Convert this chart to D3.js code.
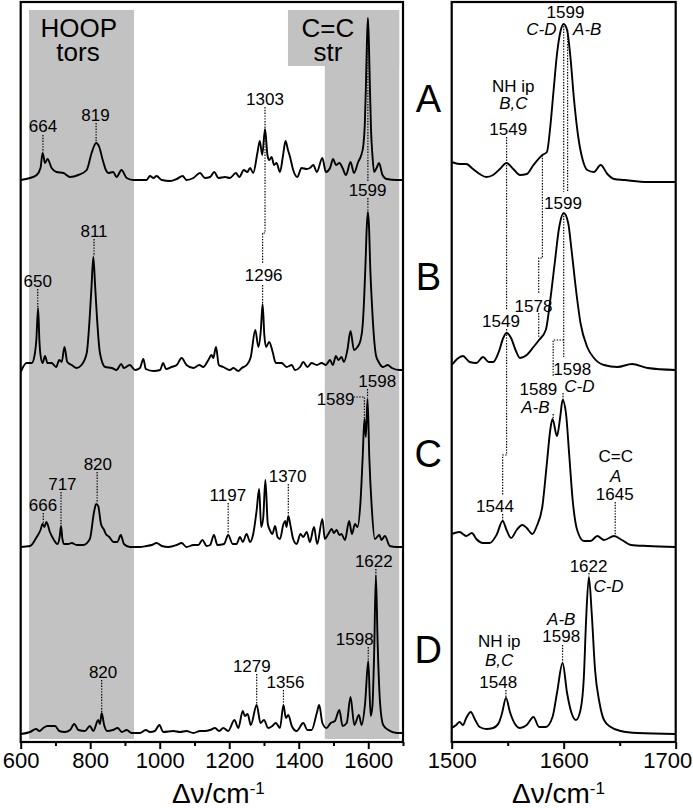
<!DOCTYPE html>
<html><head><meta charset="utf-8">
<script src="https://cdn.jsdelivr.net/npm/d3@7/dist/d3.min.js"></script>
<style>
body{margin:0;background:#fff}
svg{display:block}
text{font-family:"Liberation Sans",Arial,Helvetica,sans-serif;fill:#000}
</style>
</head><body>
<svg id="c" width="693" height="808"></svg>
<script>
// ---------------- DATA (wavenumber cm-1, intensity a.u. above trace baseline) ----------------
const traceNames = ['A','B','C','D'];

const leftA = [[600,0],[627,2],[646,5],[657,12],[663,27],[670,17],[677,21],[689,12],[703,8],[723,7],[742,3],[766,5],[790,10],[804,27],[817,37],[826,33],[836,20],[845,10],[852,7],[866,8],[876,3],[890,10],[905,2],[924,0],[962,0],[972,4],[982,2],[991,4],[1006,0],[1030,-1],[1049,1],[1066,4],[1077,0],[1097,2],[1116,7],[1130,2],[1145,3],[1157,8],[1169,2],[1188,3],[1202,2],[1219,7],[1229,3],[1242,10],[1252,8],[1260,12],[1269,7],[1281,27],[1288,39],[1295,25],[1303,51],[1310,25],[1315,20],[1322,23],[1329,15],[1336,17],[1346,8],[1355,25],[1362,39],[1369,30],[1375,23],[1384,10],[1396,3],[1408,12],[1423,11],[1432,12],[1442,15],[1452,8],[1468,22],[1478,8],[1490,12],[1499,21],[1507,15],[1517,17],[1526,12],[1536,5],[1549,18],[1559,7],[1571,18],[1580,25],[1586,35],[1590,55],[1593,90],[1596,135],[1599,162],[1602,135],[1605,90],[1608,50],[1612,25],[1617,8],[1624,12],[1631,17],[1641,5],[1653,1],[1682,0],[1700,0]];

const leftB = [[600,-2],[617,7],[632,7],[641,17],[645,30],[650,62],[654,28],[657,15],[663,7],[670,14],[677,7],[689,7],[702,3],[711,10],[718,8],[726,23],[734,8],[747,5],[761,2],[775,5],[790,17],[799,55],[804,85],[809,113],[814,85],[819,55],[828,17],[843,3],[862,2],[876,0],[889,6],[897,2],[914,5],[929,0],[943,2],[953,11],[960,1],[982,-1],[1001,0],[1010,7],[1018,1],[1034,3],[1049,5],[1063,12],[1077,5],[1097,2],[1114,5],[1125,3],[1140,10],[1149,15],[1154,12],[1162,23],[1170,5],[1183,3],[1202,0],[1212,2],[1226,-1],[1236,2],[1250,5],[1262,13],[1275,40],[1284,23],[1291,40],[1296,66],[1301,35],[1306,23],[1315,28],[1325,18],[1334,7],[1351,7],[1365,3],[1380,5],[1389,0],[1404,3],[1413,8],[1425,3],[1437,7],[1452,5],[1466,7],[1478,5],[1490,10],[1498,5],[1507,14],[1514,10],[1523,13],[1530,8],[1540,20],[1549,39],[1559,20],[1569,23],[1578,30],[1584,45],[1588,70],[1592,105],[1596,145],[1599,158],[1602,145],[1606,100],[1610,70],[1616,35],[1622,15],[1630,8],[1643,3],[1656,5],[1668,2],[1690,0],[1700,0]];

const leftC = [[600,0],[627,1],[646,10],[657,17],[663,23],[668,20],[674,25],[684,15],[694,8],[706,3],[712,10],[716,21],[720,8],[725,3],[737,3],[747,4],[761,2],[780,2],[799,8],[811,35],[817,43],[823,41],[831,23],[840,17],[845,13],[855,10],[867,5],[878,5],[888,12],[897,3],[914,0],[943,0],[962,1],[977,2],[991,4],[1006,1],[1025,0],[1049,2],[1063,4],[1077,0],[1097,2],[1111,2],[1123,7],[1135,1],[1145,2],[1156,12],[1166,2],[1185,3],[1197,12],[1210,3],[1221,3],[1231,10],[1239,5],[1250,13],[1260,5],[1269,13],[1279,37],[1286,58],[1292,20],[1298,30],[1304,67],[1311,23],[1317,17],[1324,13],[1332,21],[1339,10],[1346,8],[1356,23],[1361,26],[1365,20],[1370,31],[1377,20],[1384,8],[1394,3],[1405,13],[1413,10],[1423,15],[1432,5],[1444,20],[1453,3],[1468,28],[1475,8],[1485,13],[1495,18],[1501,14],[1509,17],[1517,12],[1523,13],[1533,7],[1545,26],[1553,13],[1562,23],[1569,20],[1578,47],[1584,90],[1589,128],[1593,110],[1598,148],[1603,90],[1610,40],[1619,8],[1632,12],[1638,7],[1648,11],[1662,1],[1682,0],[1700,0]];

const leftD = [[600,-1],[627,1],[644,4],[654,2],[665,5],[677,7],[689,7],[699,7],[711,2],[727,1],[742,3],[754,9],[766,3],[785,2],[799,7],[809,2],[823,13],[828,9],[833,20],[840,8],[849,2],[865,3],[879,5],[891,1],[905,3],[919,0],[943,0],[960,3],[972,1],[986,2],[999,8],[1010,1],[1039,2],[1058,1],[1077,2],[1097,0],[1116,2],[1130,2],[1145,3],[1159,5],[1171,2],[1183,5],[1197,2],[1215,13],[1226,5],[1239,22],[1245,17],[1253,19],[1262,8],[1279,28],[1290,10],[1300,13],[1312,5],[1324,7],[1334,10],[1346,5],[1356,28],[1363,15],[1370,18],[1380,7],[1394,2],[1413,10],[1425,3],[1437,3],[1452,20],[1459,28],[1468,10],[1480,5],[1492,10],[1504,12],[1517,23],[1526,7],[1538,10],[1549,36],[1560,8],[1573,18],[1581,8],[1591,30],[1600,72],[1607,17],[1612,27],[1617,80],[1622,158],[1627,90],[1634,30],[1643,8],[1658,3],[1682,0],[1700,0]];

const rightA = [[1500,20],[1507,18],[1513,18],[1519,13],[1525,8],[1531,5],[1537,7],[1543,13],[1549,19],[1555,13],[1561,7],[1567,8],[1573,17],[1581,27],[1585,30],[1588,55],[1591,92],[1594,128],[1597,150],[1600,158],[1603,152],[1606,125],[1609,85],[1613,45],[1617,22],[1621,12],[1627,10],[1633,17],[1639,8],[1645,3],[1654,2],[1675,0],[1700,0]];

const rightB = [[1500,5],[1506,12],[1510,14],[1516,8],[1522,7],[1528,13],[1533,8],[1537,8],[1542,18],[1546,32],[1549,37],[1553,32],[1557,20],[1561,12],[1567,15],[1573,23],[1578,30],[1584,40],[1588,70],[1592,107],[1596,143],[1600,157],[1604,147],[1607,120],[1611,80],[1615,47],[1621,23],[1627,12],[1636,5],[1648,3],[1661,6],[1675,2],[1700,0]];

const rightC = [[1500,13],[1507,15],[1513,11],[1518,14],[1522,8],[1528,4],[1534,4],[1540,12],[1545.5,26],[1549,17],[1553,9],[1558,17],[1563,22],[1567,19],[1572,13],[1576,21],[1581,41],[1585,84],[1588,117],[1590,128],[1594,111],[1597,131],[1599,147],[1602,134],[1605,91],[1608,47],[1612,17],[1618,6],[1624,6],[1630,11],[1636,7],[1645,11],[1652,7],[1660,2],[1675,1],[1700,0]];

const rightD = [[1500,6],[1504,9],[1507,12],[1510,9],[1513,16],[1517,22],[1521,14],[1525,7],[1531,5],[1537,6],[1542,11],[1545,21],[1548.5,36],[1552,22],[1556,11],[1561,6],[1567,9],[1573,17],[1578,7],[1584,7],[1590,17],[1594,41],[1599,71],[1603,41],[1607,21],[1611,14],[1615,24],[1618,57],[1620,114],[1622.5,157],[1625,121],[1628,64],[1632,31],[1636,14],[1642,7],[1651,3],[1666,1],[1700,0]];

const leftTicksMajor = [600,800,1000,1200,1400,1600];
const leftTicksMinor = [700,900,1100,1300,1500,1700];
const rightTicksMajor = [1500,1600,1700];
const rightTicksMinor = [1550,1650];

const hoopBand = [624, 926];      // cm-1
const ccBand = [1475, 1689];
const ccBox = [1369, 1689];
const bandTexts = [['HOOP','tors'],['C=C','str']];
const axisTitle = 'Δν/cm';
const axisTitleSup = '-1';

// ---------------- LAYOUT ----------------
const offL = [562,372,195,9];
const offR = [560,372,195,8];

const notesL = [
 {t:'664',v:664,I:610},{t:'819',v:815,I:621},{t:'1303',v:1303,I:637},{t:'1599',v:1598,I:546},
 {t:'650',v:649,I:455},{t:'811',v:811,I:505},{t:'1296',v:1299,I:461},
 {t:'666',v:664,I:231},{t:'717',v:720,I:252},{t:'820',v:822,I:272},{t:'1197',v:1196,I:241},
 {t:'1370',v:1368,I:260},{t:'1589',v:1506,I:337},{t:'1598',v:1626,I:355},
 {t:'820',v:837,I:64},{t:'1279',v:1265,I:70},{t:'1356',v:1362,I:54},{t:'1598',v:1561,I:97},{t:'1622',v:1616,I:175}
];
const leadersL = [
 [[664,607],[664,590]],[[817,619],[817,600]],
 [[1303,635],[1303,509],[1296,509],[1296,479]],[[1296,457],[1296,439]],
 [[1599,722],[1599,561]],[[1599,544],[1599,531]],
 [[649,453],[649,435]],[[811,503],[811,486]],
 [[665,229],[665,219]],[[716,250],[716,217]],[[820,270],[820,239]],[[1197,239],[1197,208]],
 [[1370,258],[1370,227]],[[1558,345],[1589,345],[1589,324]],[[1598,353],[1598,344]],
 [[833,62],[833,30]],[[1279,68],[1279,38]],[[1356,52],[1356,38]],[[1600,95],[1600,82]],[[1622,173],[1622,168]]
];
const notesR = [
 {t:'1599',v:1601.6,I:724},{t:'C-D',v:1580,I:707,it:1},{t:'A-B',v:1621,I:707,it:1},
 {t:'NH ip',v:1555,I:650},{t:'B,C',v:1555,I:633,it:1},{t:'1549',v:1550.5,I:607},
 {t:'1599',v:1599.4,I:533},{t:'1549',v:1544,I:415},{t:'1578',v:1573,I:430},
 {t:'1598',v:1607.6,I:367},{t:'C-D',v:1614,I:350,it:1},{t:'1589',v:1577.4,I:347},{t:'A-B',v:1574.7,I:329,it:1},
 {t:'1544',v:1538.6,I:230},{t:'C=C',v:1646.5,I:280},{t:'A',v:1646.5,I:260,it:1},{t:'1645',v:1645.6,I:242},
 {t:'1622',v:1622.2,I:170},{t:'C-D',v:1640,I:150,it:1},{t:'A-B',v:1597.8,I:117,it:1},{t:'1598',v:1597.8,I:100},
 {t:'NH ip',v:1542.4,I:95},{t:'B,C',v:1542.4,I:76,it:1},{t:'1548',v:1541.5,I:54}
];
const leadersR = [
 [[1549,605],[1549,432]],[[1549,413],[1549,287],[1545.5,287],[1545.5,247]],[[1545.5,228],[1545.5,221]],
 [[1581,587],[1581,484],[1577.7,484],[1577.7,449]],[[1577.7,429],[1577.7,405]],
 [[1600,716],[1600,550]],[[1603.5,712],[1603.5,550]],
 [[1600,529],[1600,385]],[[1600,402],[1590.6,402],[1590.6,365]],[[1590.6,328],[1590.6,324]],
 [[1599.4,349],[1599.4,342]],[[1646,240],[1646,207]],[[1622.6,169],[1622.6,166]],
 [[1599,97],[1599,80]],[[1548.4,52],[1548.4,45]]
];

// ---------------- DRAW ----------------
const svg = d3.select('#c');
const xL = d3.scaleLinear().domain([600,1700]).range([20.7,403]);
const xR = d3.scaleLinear().domain([1500,1700]).range([451.7,675.7]);
const y = d3.scaleLinear().domain([0,740]).range([742,2]);
const gray = '#c2c2c2';

// bands
svg.append('rect').attr('x',xL(hoopBand[0])).attr('width',xL(hoopBand[1])-xL(hoopBand[0]))
  .attr('y',y(732)).attr('height',y(3)-y(732)).attr('fill',gray);
svg.append('rect').attr('x',xL(ccBand[0])).attr('width',xL(ccBand[1])-xL(ccBand[0]))
  .attr('y',y(732)).attr('height',y(3)-y(732)).attr('fill',gray);
svg.append('rect').attr('x',xL(ccBox[0])).attr('width',xL(ccBox[1])-xL(ccBox[0]))
  .attr('y',y(732)).attr('height',y(676)-y(732)).attr('fill',gray);

// band texts
const bt = svg.append('g').attr('font-size',26).attr('text-anchor','middle');
bt.append('text').attr('x',xL(767)).attr('y',y(705)).text(bandTexts[0][0]);
bt.append('text').attr('x',xL(765)).attr('y',y(681)).text(bandTexts[0][1]);
bt.append('text').attr('x',xL(1484)).attr('y',y(705)).text(bandTexts[1][0]);
bt.append('text').attr('x',xL(1484)).attr('y',y(681)).text(bandTexts[1][1]);

const dotted = (g, x, list) => {
  const ln = d3.line().x(d=>x(d[0])).y(d=>y(d[1]));
  g.selectAll(null).data(list).join('path').attr('d',ln).attr('fill','none')
   .attr('stroke','#000').attr('stroke-width',1.2).attr('stroke-dasharray','1.4,1.4');
};
dotted(svg.append('g'), xL, leadersL);
dotted(svg.append('g'), xR, leadersR);

const drawTraces = (x, sets, offs) => {
  sets.forEach((s,i)=>{
    const ln = d3.line().x(d=>x(d[0])).y(d=>y(d[1]+offs[i])).curve(d3.curveMonotoneX);
    svg.append('path').datum(s).attr('d',ln).attr('fill','none').attr('stroke','#000')
      .attr('stroke-width',1.9).attr('stroke-linejoin','round');
  });
};
drawTraces(xL,[leftA,leftB,leftC,leftD],offL);
drawTraces(xR,[rightA,rightB,rightC,rightD],offR);

const notes = (x, list) => {
  svg.append('g').attr('font-size',17).attr('text-anchor','middle')
    .selectAll(null).data(list).join('text')
    .attr('x',d=>x(d.v)).attr('y',d=>y(d.I))
    .attr('font-style',d=>d.it?'italic':'normal').text(d=>d.t);
};
notes(xL, notesL);
notes(xR, notesR);

// frames
[[xL,600,1700],[xR,1500,1700]].forEach(([x,a,b])=>{
  svg.append('rect').attr('x',x(a)).attr('y',y(740)).attr('width',x(b)-x(a)).attr('height',y(0)-y(740))
    .attr('fill','none').attr('stroke','#000').attr('stroke-width',2.2);
});

// axes
const axis = (x, major, minor) => {
  const g1 = svg.append('g').attr('transform',`translate(0,${y(0)})`)
    .call(d3.axisBottom(x).tickValues(major).tickSize(7).tickSizeOuter(0).tickPadding(3).tickFormat(d3.format('d')));
  g1.select('.domain').remove();
  g1.selectAll('line').attr('stroke-width',2);
  g1.selectAll('text').attr('font-size',22).attr('font-family','"Liberation Sans",Arial,sans-serif').attr('fill','#000');
  const g2 = svg.append('g').attr('transform',`translate(0,${y(0)})`)
    .call(d3.axisBottom(x).tickValues(minor).tickSize(4).tickSizeOuter(0).tickFormat(''));
  g2.select('.domain').remove();
  g2.selectAll('line').attr('stroke-width',2);
  return g1;
};
axis(xL, leftTicksMajor, leftTicksMinor);
const gR = axis(xR, rightTicksMajor, rightTicksMinor);
// keep the last right-hand tick label inside the page
gR.selectAll('.tick').filter(d=>d===1700).select('text').attr('text-anchor','end').attr('x',16);

// axis titles
[[xL,1035],[xR,1553.8]].forEach(([x,v])=>{
  const t = svg.append('text').attr('x',x(v)).attr('y',803).attr('font-size',28).text(axisTitle);
  t.append('tspan').attr('font-size',17).attr('dy',-9).text(axisTitleSup);
});

// panel letters
const lx = (xL.range()[1]+xR.range()[0])/2 + 1;
svg.append('g').attr('font-size',38).attr('text-anchor','middle')
  .selectAll(null).data(traceNames).join('text')
  .attr('x',lx).attr('y',(d,i)=>y([630,452,275,79][i])).text(d=>d);
</script>
</body></html>
